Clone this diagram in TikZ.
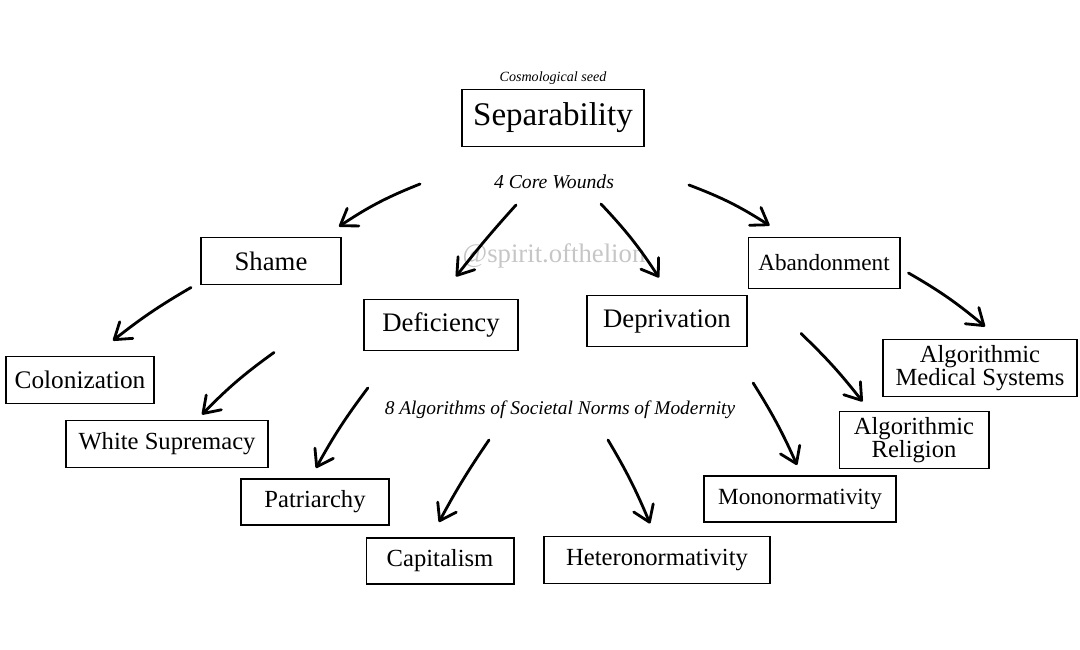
\documentclass[tikz,border=0pt]{standalone}
\usepackage{fontspec}
\setmainfont{Liberation Serif}
\usetikzlibrary{arrows.meta,calc}

\tikzset{
  box/.style={draw, line width=1.4pt, inner sep=0pt, align=center,
    font=\fontsize{17.5}{16.5}\selectfont},
  note/.style={font=\itshape\fontsize{14}{16}\selectfont},
  arr/.style={-{Straight Barb[length=11pt,width=15pt,round]},
    line width=2pt, line cap=round},
}

\begin{document}
\begin{tikzpicture}[x=0.025cm, y=-0.025cm]
    \useasboundingbox (0,0) rectangle (1080,650);

    % Semilla y heridas
    \node[note, font=\itshape\fontsize{10}{12}\selectfont] (seed) at (553,78) {Cosmological seed};
    \node[box, minimum width=4.525cm, minimum height=1.425cm,
        font=\fontsize{23.5}{25}\selectfont] (sep) at (553,118) {Separability};
    \node[note] (wounds) at (554,182) {4 Core Wounds};
    \node[text=gray!45, font=\fontsize{19}{21}\selectfont] (mark) at (554,256) {@spirit.ofthelion};

    \node[box, minimum width=3.5cm, minimum height=1.175cm,
        font=\fontsize{19}{21}\selectfont] (shame) at (271,261) {Shame};
    \node[box, minimum width=3.825cm, minimum height=1.275cm,
        font=\fontsize{19}{21}\selectfont] (defic) at (441,325) {Deficiency};
    \node[box, minimum width=4cm, minimum height=1.275cm,
        font=\fontsize{19}{21}\selectfont] (depriv) at (667,321) {Deprivation};
    \node[box, minimum width=3.775cm, minimum height=1.275cm,
        font=\fontsize{16.5}{18}\selectfont] (aband) at (824,263) {Abandonment};

    % Algoritmos
    \node[note, font=\itshape\fontsize{13.8}{16}\selectfont] (norms) at (560,410)
        {8 Algorithms of Societal Norms of Modernity};

    \node[box, minimum width=3.7cm, minimum height=1.175cm,
        font=\fontsize{18}{20}\selectfont] (colon) at (80,380) {Colonization};
    \node[box, minimum width=5.025cm, minimum height=1.175cm] (white) at (167,444) {White Supremacy};
    \node[box, minimum width=3.7cm, minimum height=1.15cm] (patri) at (315,502) {Patriarchy};
    \node[box, minimum width=3.675cm, minimum height=1.15cm] (capit) at (440,561) {Capitalism};
    \node[box, minimum width=5.625cm, minimum height=1.175cm] (hetero) at (657,560) {Heteronormativity};
    \node[box, minimum width=4.8cm, minimum height=1.15cm,
        font=\fontsize{16.5}{18}\selectfont] (mono) at (800,499) {Mononormativity};
    \node[box, minimum width=3.725cm, minimum height=1.425cm] (relig) at (914,440) {Algorithmic\\Religion};
    \node[box, minimum width=4.825cm, minimum height=1.425cm] (medic) at (980,368) {Algorithmic\\Medical Systems};

    % Flechas desde las heridas
    \draw[arr] ($(wounds.west)+(-69,2)$) to[bend right=6] ($(shame.north east)+(-3,-10)$);
    \draw[arr] ($(wounds)+(-38,23)$) to[bend right=2] ($(defic.north)+(15,-22)$);
    \draw[arr] ($(wounds)+(47,22)$) to[bend left=5] ($(depriv.north)+(-8,-17)$);
    \draw[arr] ($(wounds.east)+(70,3)$) to[bend left=6] ($(aband.north west)+(22,-11)$);

    \draw[arr] ($(shame.south west)+(-9,2)$) to[bend right=4] ($(colon.north)+(33,-15)$);
    \draw[arr] ($(shame.south)+(3,67)$) to[bend right=5] ($(white.north)+(35,-5)$);
    \draw[arr] ($(depriv.south east)+(53,-14)$) to[bend left=4] ($(relig.north west)+(24,-9)$);
    \draw[arr] ($(aband.east)+(8,10)$) to[bend left=5] ($(medic.north)+(5,-12)$);

    % Flechas desde las normas
    \draw[arr] ($(norms.west)+(-12,-22)$) to[bend right=4] ($(patri.north)+(1,-10)$);
    \draw[arr] ($(norms)+(-71,30)$) to[bend right=3] ($(capit.north)+(-1,-15)$);
    \draw[arr] ($(norms)+(48,30)$) to[bend left=4] ($(hetero.north)+(-7,-12)$);
    \draw[arr] ($(norms.east)+(13,-27)$) to[bend left=4] ($(mono.north)+(-3,-10)$);

\end{tikzpicture}
\end{document}
